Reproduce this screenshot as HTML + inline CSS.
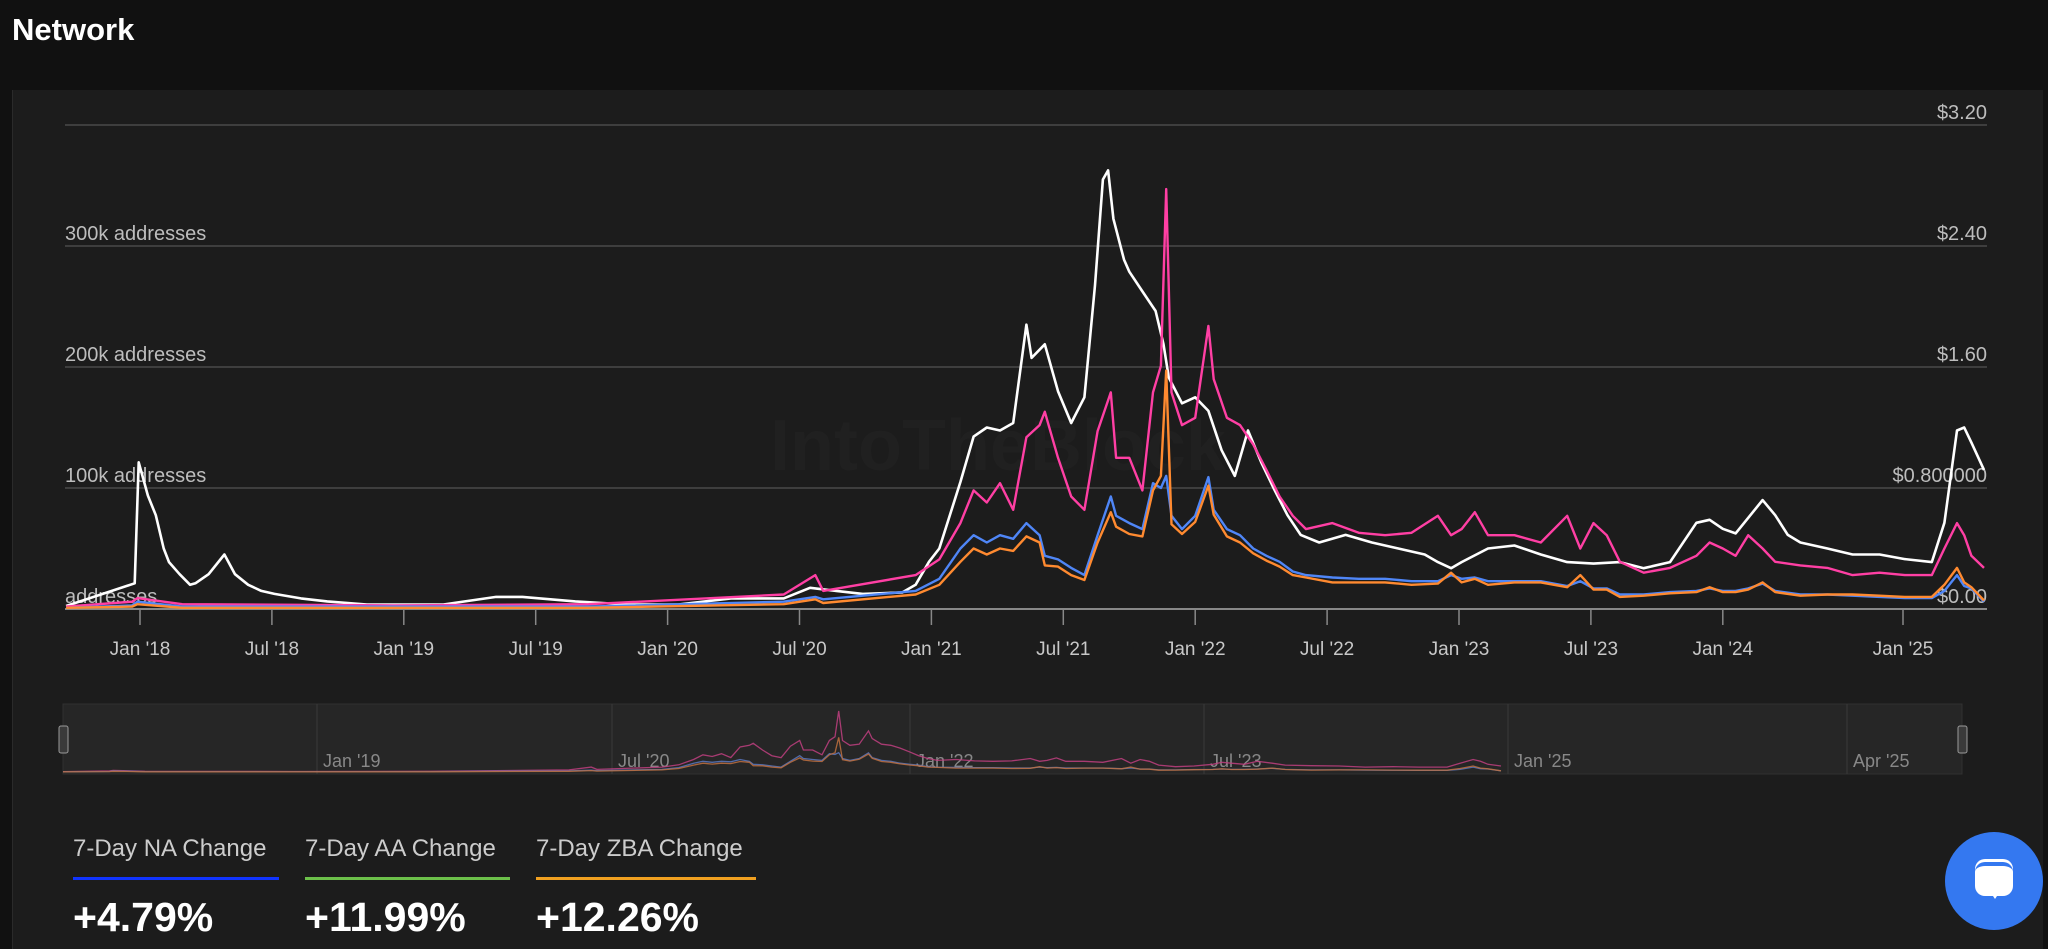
<!DOCTYPE html>
<html><head><meta charset="utf-8"><style>
html,body{margin:0;padding:0;background:#111;}
body{width:2048px;height:949px;overflow:hidden;position:relative;font-family:"Liberation Sans",sans-serif;}
#title{position:absolute;left:12px;top:12px;color:#fff;font-size:31px;font-weight:bold;}
#panel{position:absolute;left:12px;top:90px;width:2030px;height:859px;background:#1c1c1c;border-left:1px solid #2a2a2a;}
svg{position:absolute;left:0;top:0;}
.stat{position:absolute;color:#ccc;font-size:24px;}
.bar{position:absolute;height:3px;}
.val{position:absolute;color:#fff;font-size:41px;font-weight:bold;}
</style></head><body>
<div id="title">Network</div>
<div id="panel"></div>
<svg id="chart" width="2048" height="949"></svg>
<div class="stat" style="left:73px;top:835px">7-Day NA Change</div>
<div class="bar" style="left:73px;top:877px;width:206px;background:#1034ff"></div>
<div class="val" style="left:73px;top:894px">+4.79%</div>
<div class="stat" style="left:305px;top:835px">7-Day AA Change</div>
<div class="bar" style="left:305px;top:877px;width:205px;background:#6cc04a"></div>
<div class="val" style="left:305px;top:894px">+11.99%</div>
<div class="stat" style="left:536px;top:835px">7-Day ZBA Change</div>
<div class="bar" style="left:536px;top:877px;width:220px;background:#f0a020"></div>
<div class="val" style="left:536px;top:894px">+12.26%</div>
<div style="position:absolute;left:1945px;top:832px;width:98px;height:98px;border-radius:50%;background:#3478f0;">
<div style="position:absolute;left:30px;top:30px;width:38px;height:30px;background:#fff;border-radius:10px 10px 10px 10px;border-top:4px solid #3478f0;box-shadow:0 -3px 0 #fff;"></div>
<div style="position:absolute;left:44px;top:58px;width:0;height:0;border-left:6px solid transparent;border-right:6px solid transparent;border-top:9px solid #fff;"></div>
</div>
<script>
const priceDates=[2017.72,2017.98,2017.995,2018.03,2018.06,2018.09,2018.11,2018.15,2018.19,2018.21,2018.26,2018.32,2018.36,2018.41,2018.46,2018.51,2018.61,2018.71,2018.86,2019.15,2019.35,2019.45,2019.65,2019.85,2020.04,2020.24,2020.44,2020.54,2020.64,2020.74,2020.89,2020.94,2020.99,2021.03,2021.11,2021.16,2021.21,2021.26,2021.31,2021.36,2021.38,2021.43,2021.48,2021.53,2021.58,2021.62,2021.65,2021.67,2021.69,2021.73,2021.75,2021.80,2021.85,2021.88,2021.90,2021.95,2022.00,2022.05,2022.10,2022.15,2022.20,2022.25,2022.30,2022.35,2022.40,2022.47,2022.57,2022.67,2022.77,2022.87,2022.92,2022.97,2023.01,2023.11,2023.21,2023.31,2023.41,2023.51,2023.61,2023.70,2023.80,2023.90,2023.95,2024.00,2024.07,2024.22,2024.29,2024.36,2024.43,2024.58,2024.72,2024.87,2025.01,2025.16,2025.23,2025.30,2025.34,2025.38,2025.45];
const priceValues=[0.02,0.17,0.97,0.75,0.62,0.40,0.31,0.23,0.16,0.17,0.23,0.36,0.23,0.16,0.12,0.10,0.07,0.05,0.03,0.03,0.08,0.08,0.05,0.03,0.03,0.07,0.07,0.14,0.12,0.10,0.11,0.16,0.31,0.40,0.84,1.14,1.20,1.18,1.23,1.88,1.66,1.75,1.44,1.23,1.40,2.14,2.84,2.90,2.58,2.31,2.23,2.10,1.97,1.75,1.53,1.36,1.40,1.31,1.05,0.88,1.18,0.97,0.79,0.62,0.49,0.44,0.49,0.44,0.40,0.36,0.31,0.27,0.31,0.40,0.42,0.36,0.31,0.30,0.31,0.27,0.31,0.57,0.59,0.53,0.50,0.72,0.62,0.49,0.44,0.40,0.36,0.36,0.33,0.31,0.57,1.18,1.20,1.10,0.92];
const addrDates=[2017.72,2017.97,2017.99,2018.16,2018.96,2019.70,2020.44,2020.56,2020.59,2020.94,2021.03,2021.11,2021.16,2021.21,2021.26,2021.31,2021.36,2021.41,2021.43,2021.48,2021.53,2021.58,2021.63,2021.68,2021.70,2021.75,2021.80,2021.84,2021.87,2021.89,2021.91,2021.95,2022.00,2022.05,2022.07,2022.12,2022.17,2022.22,2022.27,2022.32,2022.37,2022.42,2022.52,2022.62,2022.72,2022.82,2022.92,2022.97,2023.01,2023.06,2023.11,2023.21,2023.31,2023.41,2023.46,2023.51,2023.56,2023.61,2023.70,2023.80,2023.90,2023.95,2024.00,2024.07,2024.14,2024.22,2024.29,2024.43,2024.58,2024.72,2024.87,2025.01,2025.16,2025.23,2025.30,2025.34,2025.38,2025.45];
const pinkValues=[2,6,9,4,3,4,12,28,15,28,41,71,98,88,104,82,142,152,163,125,93,82,147,179,125,125,98,179,201,347,179,152,158,234,190,158,152,136,115,93,77,66,71,63,61,63,77,61,66,80,61,61,55,77,50,71,61,39,30,34,44,55,50,44,61,50,39,36,34,28,30,28,28,50,71,61,44,34];
const blueValues=[1,3,6,2,2,2,6,10,8,15,25,50,61,55,61,58,71,61,44,41,34,28,61,93,77,71,66,104,100,110,77,66,77,109,82,66,61,50,44,39,31,28,26,25,25,23,23,28,25,26,23,23,23,19,23,17,17,12,12,14,15,17,15,15,17,21,15,12,12,11,10,9,9,15,28,19,17,6];
const orangeValues=[1,2,4,1,1,1,4,8,5,12,20,39,50,45,50,48,60,55,36,35,28,24,55,80,68,62,60,98,110,197,70,62,72,102,78,60,55,46,40,35,28,26,22,22,22,20,21,30,22,25,20,22,22,18,28,16,16,10,11,13,14,18,14,14,16,22,14,11,12,12,11,10,10,20,34,22,18,7];
const tickDates=[2018,2018.5,2019,2019.5,2020,2020.5,2021,2021.5,2022,2022.5,2023,2023.5,2024,2025];
const tickLabels=["Jan '18","Jul '18","Jan '19","Jul '19","Jan '20","Jul '20","Jan '21","Jul '21","Jan '22","Jul '22","Jan '23","Jul '23","Jan '24","Jan '25"];
const leftTicks=[0,100,200,300,400];
const leftLabels=["addresses","100k addresses","200k addresses","300k addresses",""];
const rightTicks=[0,0.8,1.6,2.4,3.2];
const rightLabels=["$0.00","$0.800000","$1.60","$2.40","$3.20"];
const navLabels=["Jan '19","Jul '20","Jan '22","Jul '23","Jan '25","Apr '25"];

const NS="http://www.w3.org/2000/svg";
const svg=document.getElementById('chart');
function mk(tag,attrs,parent){const e=document.createElementNS(NS,tag);for(const k in attrs)e.setAttribute(k,attrs[k]);(parent||svg).appendChild(e);return e;}
const L=65,R=1987,Y0=609,YT=125;
function xScale(t){
  if(t<=2024) return 140+(t-2018)*263.8;
  return 1723+(t-2024)*180;
}
function yLeft(v){return Y0-(v/400)*(Y0-YT);}
function yRight(v){return Y0-(v/3.2)*(Y0-YT);}

const wm=mk('text',{x:770,y:470,fill:'#fff','fill-opacity':'0.018','font-size':'72','font-weight':'bold','font-family':'Liberation Sans, sans-serif'});


wm.textContent='IntoTheBlock';

leftTicks.forEach((v,i)=>{
  const y=yLeft(v);
  const g=mk('line',{x1:L,x2:R,y1:y,y2:y,stroke:i===0?'#888':'#4a4a4a','stroke-width':i===0?2:1.5});
  
  
  if(leftLabels[i]){
    const t=mk('text',{x:L,y:y-6,fill:'#bdbdbd','font-size':'20','font-family':'Liberation Sans, sans-serif'});
    
    
    t.textContent=leftLabels[i];
  }
});
rightTicks.forEach((v,i)=>{
  const t=mk('text',{x:R,y:yRight(v)-6,fill:'#bdbdbd','font-size':'20','text-anchor':'end','font-family':'Liberation Sans, sans-serif'});
  
  
  t.textContent=rightLabels[i];
});
tickDates.forEach((d,i)=>{
  const x=xScale(d);
  const l=mk('line',{x1:x,x2:x,y1:Y0,y2:625,stroke:'#888','stroke-width':1.5});
  
  
  const t=mk('text',{x:x,y:655,fill:'#c8c8c8','font-size':'19','text-anchor':'middle','font-family':'Liberation Sans, sans-serif'});
  
  
  t.textContent=tickLabels[i];
});
function path(dates,vals,ys,xs){return dates.map((d,i)=>(i?'L':'M')+xs(d).toFixed(1)+','+ys(vals[i]).toFixed(1)).join('');}
const w=mk('path',{d:path(priceDates,priceValues,yRight,xScale),fill:'none',stroke:'#ffffff','stroke-width':2.6,'stroke-linejoin':'round'});


const p=mk('path',{d:path(addrDates,pinkValues,yLeft,xScale),fill:'none',stroke:'#ff3fa4','stroke-width':2.4,'stroke-linejoin':'round'});


const b=mk('path',{d:path(addrDates,blueValues,yLeft,xScale),fill:'none',stroke:'#4f86f7','stroke-width':2.4,'stroke-linejoin':'round'});


const o=mk('path',{d:path(addrDates,orangeValues,yLeft,xScale),fill:'none',stroke:'#ff8a30','stroke-width':2.4,'stroke-linejoin':'round'});



const NL=63,NR=1962,NT=704,NB=774;
const nav=mk('rect',{x:NL,y:NT,width:NR-NL,height:NB-NT,fill:'#262626',stroke:'#303030'});


const navGridX=[317,612,910,1204,1508,1847];
navLabels.forEach((lab,i)=>{
  const l=mk('line',{x1:navGridX[i],x2:navGridX[i],y1:NT,y2:NB,stroke:'#3a3a3a'});
  
  
  const t=mk('text',{x:navGridX[i]+6,y:767,fill:'#888','font-size':'18','font-family':'Liberation Sans, sans-serif'});
  
  
  t.textContent=lab;
});
function nx(t){return NL+(t-2017.72)/(2025.45-2017.72)*(1501-NL);}
function ny(v){return NB-2-v/347*61;}
[['#c04080',pinkValues],['#5a78c0',blueValues],['#c07040',orangeValues]].forEach(([c,vals])=>{
  const m=mk('path',{d:path(addrDates,vals,ny,nx),fill:'none',stroke:c,'stroke-width':1.3,'stroke-opacity':0.85});
  
  
});
[NL,NR].forEach(x=>{
  const h=mk('rect',{x:x-4,y:726,width:9,height:27,rx:2,fill:'#3a3a3a',stroke:'#999','stroke-width':1});
  
  
});
</script>
</body></html>
